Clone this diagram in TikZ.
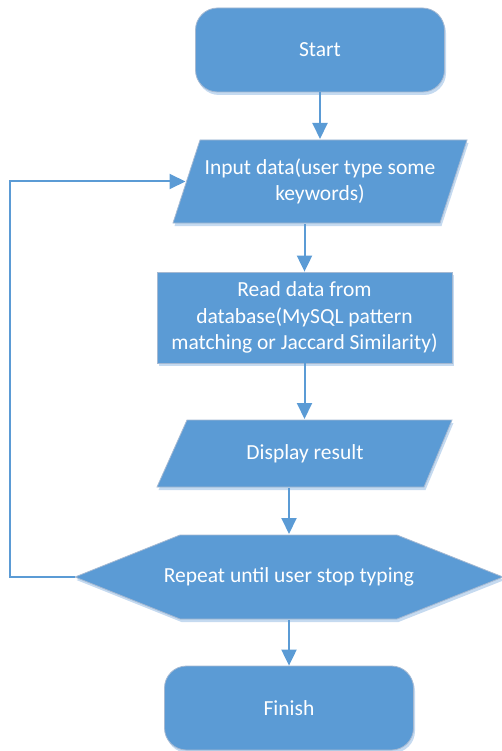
\documentclass[tikz,border=0pt]{standalone}
\usepackage{fontspec}
\setmainfont{Carlito}
\usetikzlibrary{arrows.meta,shadows}
\definecolor{flowblue}{RGB}{91,155,213}
\definecolor{flowedge}{RGB}{165,185,210}
\definecolor{flowshade}{RGB}{197,218,240}

\begin{document}
\begin{tikzpicture}[x=1pt, y=-1pt, >={Triangle[length=16pt,width=15pt]}, line width=2pt,
  blk/.style={fill=flowblue, draw=flowedge, line width=0.8pt,
    drop shadow={shadow xshift=1.5pt, shadow yshift=-3pt, fill=flowshade, opacity=1}},
  txt/.style={text=white, align=center, inner sep=0pt, font=\fontsize{21.5}{26.5}\selectfont},
  term/.style={blk, txt, rounded corners=22pt, minimum width=249pt, minimum height=84pt},
  flow/.style={->, draw=flowblue}]
  \useasboundingbox (0,0) rectangle (501,751);
  % outlines that have no ready node shape
  \path[blk] (200,140) -- (467,140) -- (440,223) -- (173,223) -- cycle;
  \path[blk] (187,420) -- (452,420) -- (424,487) -- (157,487) -- cycle;
  \path[blk] (75,577) -- (180,535) -- (397,535) -- (503,577) -- (397,619) -- (180,619) -- cycle;

  \node[term] (start) at (320,50) {Start};
  \node[txt, minimum width=267pt, minimum height=83pt] (input) at (320,181.5) {Input data(user type some\\keywords)};
  \node[blk, txt, minimum width=295pt, minimum height=91pt] (read) at (304.5,317.5) {Read data from\\database(MySQL pattern\\matching or Jaccard Similarity)};
  \node[txt, minimum width=267pt, minimum height=67pt] (display) at (305,453.5) {Display result};
  \node[txt, minimum width=426pt, minimum height=84pt] (repeat) at (289,577) {Repeat until user stop typing};
  \node[term] (finish) at (289,708) {Finish};
  \coordinate (back) at (10,577);

  \draw[flow] (start.south) -- (input.north);
  \draw[flow] (input.south -| read.north) -- (read.north);
  \draw[flow] (read.south) -- (read.south |- display.north);
  \draw[flow] (display.south -| repeat.north) -- (repeat.north);
  \draw[flow] (repeat.south) -- (finish.north);
  \draw[flow] (repeat.west) -- (back) |- (input.west);
\end{tikzpicture}
\end{document}
